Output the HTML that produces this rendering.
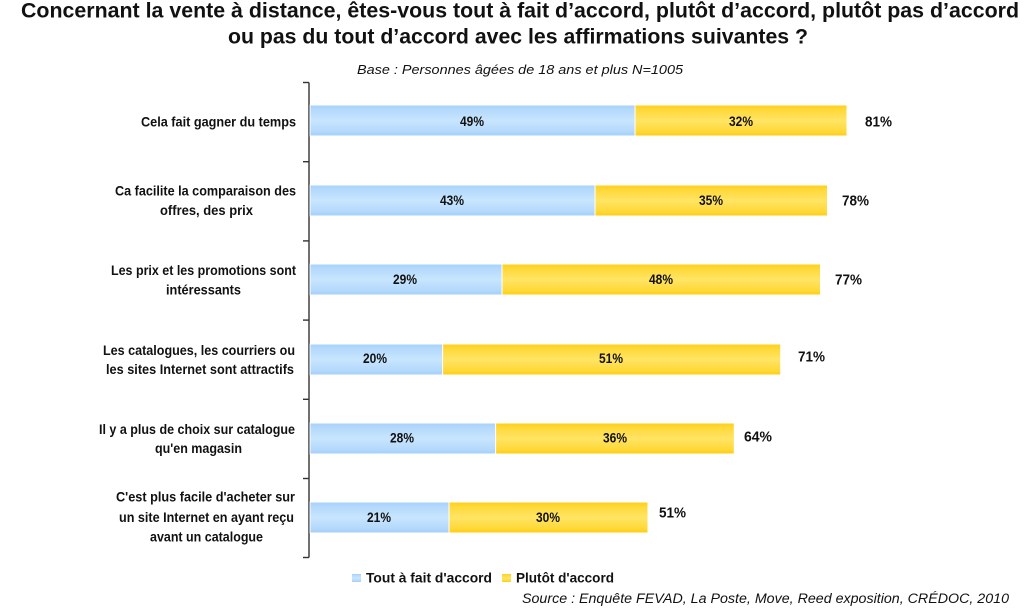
<!DOCTYPE html>
<html><head><meta charset="utf-8"><style>
html,body{margin:0;padding:0;background:#fff;}
svg{display:block;}
text{font-family:"Liberation Sans",Arial,sans-serif;fill:#111;}
.b{font-weight:bold;}
.i{font-style:italic;}
</style></head><body>
<svg width="1030" height="612" viewBox="0 0 1030 612" xmlns="http://www.w3.org/2000/svg">
<defs>
<linearGradient id="gb" x1="0" y1="0" x2="0" y2="1">
<stop offset="0" stop-color="#a6d1fb"/>
<stop offset="0.15" stop-color="#b4d9fc"/>
<stop offset="0.5" stop-color="#c8e5fe"/>
<stop offset="0.85" stop-color="#b4d9fc"/>
<stop offset="1" stop-color="#a2cff9"/>
</linearGradient>
<linearGradient id="gy" x1="0" y1="0" x2="0" y2="1">
<stop offset="0" stop-color="#ffcf10"/>
<stop offset="0.15" stop-color="#ffd93a"/>
<stop offset="0.5" stop-color="#ffe465"/>
<stop offset="0.85" stop-color="#ffd93a"/>
<stop offset="1" stop-color="#ffcc0a"/>
</linearGradient>
</defs>

<!-- Title -->
<text class="b" x="21" y="17.5" font-size="21" textLength="998" lengthAdjust="spacingAndGlyphs">Concernant la vente à distance, êtes-vous tout à fait d’accord, plutôt d’accord, plutôt pas d’accord</text>
<text class="b" x="228" y="43.5" font-size="21" textLength="580" lengthAdjust="spacingAndGlyphs">ou pas du tout d’accord avec les affirmations suivantes ?</text>
<text class="i" x="357" y="74" font-size="12.5" textLength="326" lengthAdjust="spacingAndGlyphs" fill="#222">Base : Personnes âgées de 18 ans et plus N=1005</text>

<!-- Axis -->
<g stroke="#333" stroke-width="1.4">
<line x1="309" y1="82.5" x2="309" y2="557.5"/>
<line x1="303" y1="82.5" x2="309" y2="82.5"/>
<line x1="303" y1="161.7" x2="309" y2="161.7"/>
<line x1="303" y1="240.9" x2="309" y2="240.9"/>
<line x1="303" y1="320.1" x2="309" y2="320.1"/>
<line x1="303" y1="399.3" x2="309" y2="399.3"/>
<line x1="303" y1="478.5" x2="309" y2="478.5"/>
<line x1="303" y1="557.5" x2="309" y2="557.5"/>
</g>

<!-- Bars -->
<g stroke="#fff" stroke-width="1">
<rect x="310" y="105" width="325" height="31" fill="url(#gb)"/>
<rect x="635" y="105" width="212" height="31" fill="url(#gy)"/>
<rect x="310" y="185" width="285" height="31" fill="url(#gb)"/>
<rect x="595" y="185" width="232.5" height="31" fill="url(#gy)"/>
<rect x="310" y="264" width="192" height="31" fill="url(#gb)"/>
<rect x="502" y="264" width="318.5" height="31" fill="url(#gy)"/>
<rect x="310" y="344" width="132.6" height="31" fill="url(#gb)"/>
<rect x="442.6" y="344" width="338.1" height="31" fill="url(#gy)"/>
<rect x="310" y="423" width="185.6" height="31" fill="url(#gb)"/>
<rect x="495.6" y="423" width="238.7" height="31" fill="url(#gy)"/>
<rect x="310" y="502" width="139" height="31" fill="url(#gb)"/>
<rect x="449" y="502" width="199" height="31" fill="url(#gy)"/>
</g>

<!-- Segment labels -->
<g class="b" font-size="14" text-anchor="middle">
<text x="472" y="126" textLength="24" lengthAdjust="spacingAndGlyphs">49%</text>
<text x="741" y="126" textLength="24" lengthAdjust="spacingAndGlyphs">32%</text>
<text x="452" y="205" textLength="24" lengthAdjust="spacingAndGlyphs">43%</text>
<text x="711" y="205" textLength="24" lengthAdjust="spacingAndGlyphs">35%</text>
<text x="405" y="284" textLength="24" lengthAdjust="spacingAndGlyphs">29%</text>
<text x="661" y="284" textLength="24" lengthAdjust="spacingAndGlyphs">48%</text>
<text x="375" y="363" textLength="24" lengthAdjust="spacingAndGlyphs">20%</text>
<text x="611" y="363" textLength="24" lengthAdjust="spacingAndGlyphs">51%</text>
<text x="402" y="442.5" textLength="24" lengthAdjust="spacingAndGlyphs">28%</text>
<text x="615" y="442.5" textLength="24" lengthAdjust="spacingAndGlyphs">36%</text>
<text x="379" y="522" textLength="24" lengthAdjust="spacingAndGlyphs">21%</text>
<text x="548" y="522" textLength="24" lengthAdjust="spacingAndGlyphs">30%</text>
</g>

<!-- Totals -->
<g class="b" font-size="15">
<text x="865" y="126.5" textLength="27" lengthAdjust="spacingAndGlyphs">81%</text>
<text x="842" y="205.5" textLength="27" lengthAdjust="spacingAndGlyphs">78%</text>
<text x="835" y="284.5" textLength="27" lengthAdjust="spacingAndGlyphs">77%</text>
<text x="798" y="361.5" textLength="27" lengthAdjust="spacingAndGlyphs">71%</text>
<text x="744" y="441.5" textLength="28" lengthAdjust="spacingAndGlyphs">64%</text>
<text x="659" y="517.5" textLength="27" lengthAdjust="spacingAndGlyphs">51%</text>
</g>

<!-- Category labels -->
<g class="b" font-size="14">
<text x="141" y="126.5" textLength="155" lengthAdjust="spacingAndGlyphs">Cela fait gagner du temps</text>
<text x="115" y="195.5" textLength="181" lengthAdjust="spacingAndGlyphs">Ca facilite la comparaison des</text>
<text x="160" y="215" textLength="93" lengthAdjust="spacingAndGlyphs">offres, des prix</text>
<text x="111" y="275" textLength="185" lengthAdjust="spacingAndGlyphs">Les prix et les promotions sont</text>
<text x="166" y="294.5" textLength="75" lengthAdjust="spacingAndGlyphs">intéressants</text>
<text x="103" y="355" textLength="192" lengthAdjust="spacingAndGlyphs">Les catalogues, les courriers ou</text>
<text x="106" y="374" textLength="188" lengthAdjust="spacingAndGlyphs">les sites Internet sont attractifs</text>
<text x="99" y="434" textLength="196" lengthAdjust="spacingAndGlyphs">Il y a plus de choix sur catalogue</text>
<text x="155" y="453" textLength="87" lengthAdjust="spacingAndGlyphs">qu'en magasin</text>
<text x="116" y="501.5" textLength="179" lengthAdjust="spacingAndGlyphs">C'est plus facile d'acheter sur</text>
<text x="119" y="522" textLength="175" lengthAdjust="spacingAndGlyphs">un site Internet en ayant reçu</text>
<text x="150" y="541.5" textLength="113" lengthAdjust="spacingAndGlyphs">avant un catalogue</text>
</g>

<!-- Legend -->
<rect x="352" y="574" width="9" height="8" fill="url(#gb)"/>
<text class="b" x="366" y="582.5" font-size="14" textLength="126" lengthAdjust="spacingAndGlyphs">Tout à fait d'accord</text>
<rect x="502" y="574" width="9" height="8" fill="url(#gy)"/>
<text class="b" x="516" y="582.5" font-size="14" textLength="98" lengthAdjust="spacingAndGlyphs">Plutôt d'accord</text>

<!-- Source -->
<text class="i" x="522" y="603" font-size="13.5" textLength="487" lengthAdjust="spacingAndGlyphs" fill="#222">Source : Enquête FEVAD, La Poste, Move, Reed exposition, CRÉDOC, 2010</text>
</svg>
</body></html>
